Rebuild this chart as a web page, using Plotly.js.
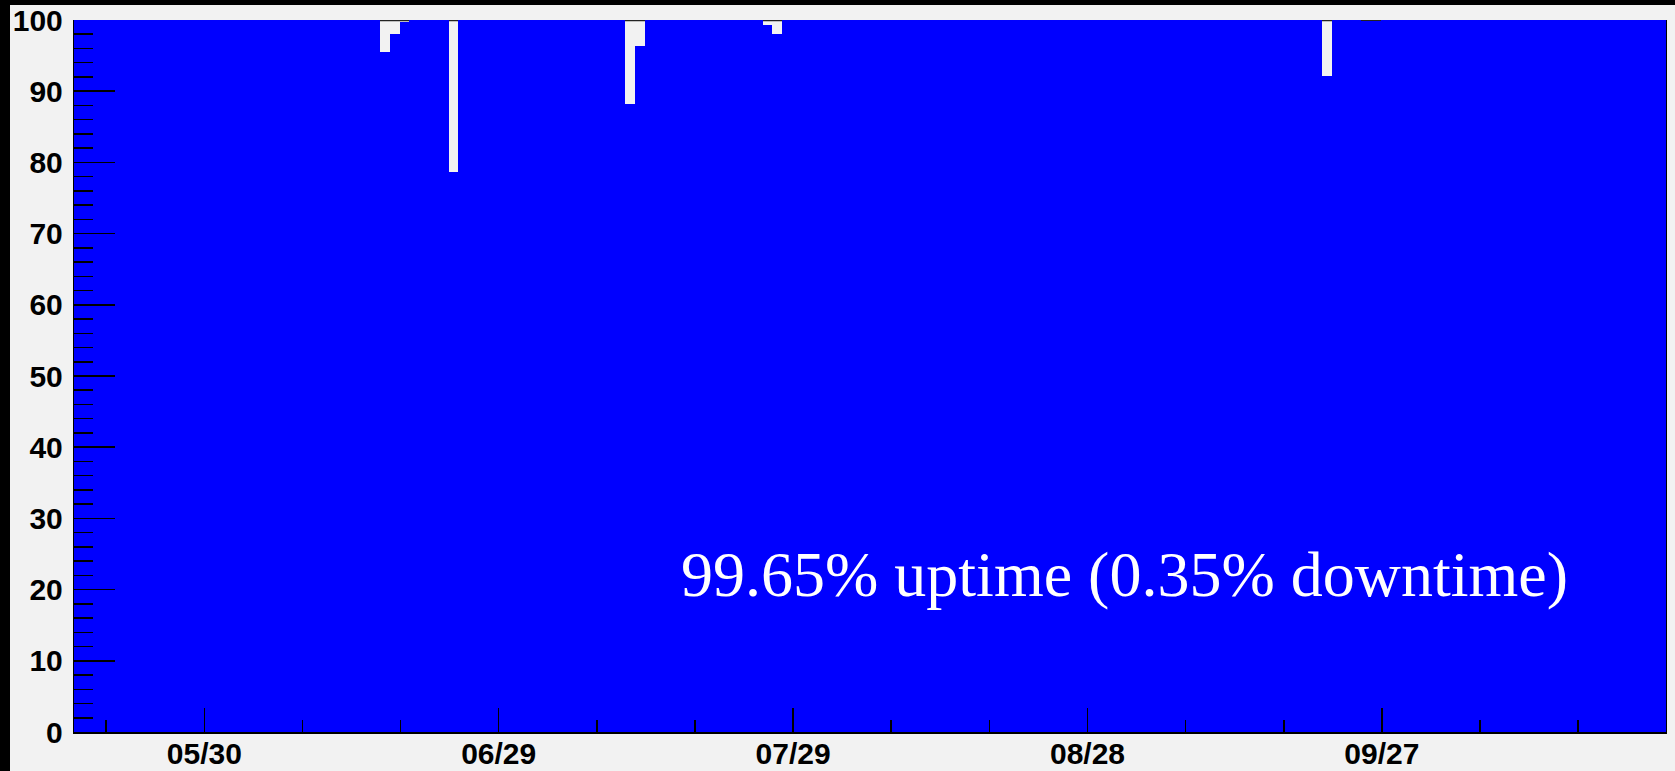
<!DOCTYPE html>
<html>
<head>
<meta charset="utf-8">
<script src="https://cdn.plot.ly/plotly-3.0.1.min.js"></script>
<style>
  html, body { margin: 0; padding: 0; background: #000; overflow: hidden; }
  #chart { position: absolute; left: 10px; top: 5px; width: 1665px; height: 766px; }
</style>
</head>
<body>
<div id="chart"></div>
<script>
// Daily uptime (%) per calendar day, one array per month.
const year = 2013;

// May 16 .. May 31
const mayDays = [16, 31];
const mayUptime = [100, 100, 100, 100, 100, 100, 100, 100, 100, 100, 100, 100, 100, 100, 100, 100];

// June 1 .. June 30
const juneDays = [1, 30];
const juneUptime = [100, 100, 100, 100, 100, 100, 100, 100, 100, 100,
                    100, 100, 100, 100, 100, 100, 95.45, 98.07, 99.72, 100,
                    100, 100, 100, 78.63, 100, 100, 100, 100, 100, 100];

// July 1 .. July 31
const julyDays = [1, 31];
const julyUptime = [100, 100, 100, 100, 100, 100, 100, 100, 100, 100,
                    100, 88.23, 96.35, 100, 100, 100, 100, 100, 100, 100,
                    100, 100, 100, 100, 100, 99.24, 98.03, 100, 100, 100, 100];

// August 1 .. August 31
const augDays = [1, 31];
const augUptime = [100, 100, 100, 100, 100, 100, 100, 100, 100, 100,
                   100, 100, 100, 100, 100, 100, 100, 100, 100, 100,
                   100, 100, 100, 100, 100, 100, 100, 100, 100, 100, 100];

// September 1 .. September 30
const sepDays = [1, 30];
const sepUptime = [100, 100, 100, 100, 100, 100, 100, 100, 100, 100,
                   100, 100, 100, 100, 100, 100, 100, 100, 100, 100,
                   92.13, 100, 100, 100, 99.9, 99.9, 100, 100, 100, 100];

// October 1 .. October 25
const octDays = [1, 25];
const octUptime = [100, 100, 99.95, 100, 100, 100, 100, 100, 100, 100,
                   100, 100, 100, 100, 100, 100, 100, 100, 100, 100,
                   100, 100, 100, 100, 100];

const summaryText = '99.65% uptime (0.35% downtime)';

// Date tick labels every 30 days starting from this day, minor ticks every 10 days.
const tickStart = '2013-05-30';

const DAY = 86400000;
// Daily bins start a little before local midnight.
const BIN_OFFSET = -0.1 * DAY;

const months = [
  { m: 4, days: mayDays, vals: mayUptime },
  { m: 5, days: juneDays, vals: juneUptime },
  { m: 6, days: julyDays, vals: julyUptime },
  { m: 7, days: augDays, vals: augUptime },
  { m: 8, days: sepDays, vals: sepUptime },
  { m: 9, days: octDays, vals: octUptime }
];

const xs = [], ys = [];
months.forEach(function (mo) {
  mo.vals.forEach(function (v, i) {
    const d = mo.days[0] + i;
    xs.push(Date.UTC(year, mo.m, d) + BIN_OFFSET + DAY / 2);
    ys.push(v);
  });
});

const t0 = Date.UTC(2013, 4, 30);
const xRange = [t0 - 13.278 * DAY, t0 + 148.95 * DAY];

const tickFont = { family: 'Liberation Sans, Arial, sans-serif', size: 30, color: '#000', weight: 'bold' };

const trace = {
  type: 'bar',
  x: xs,
  y: ys,
  width: DAY,
  marker: { color: '#0000ff', line: { width: 0 } },
  hoverinfo: 'none'
};

const layout = {
  width: 1665,
  height: 766,
  margin: { l: 64, r: 9, t: 15, b: 39 },
  paper_bgcolor: '#f2f2f2',
  plot_bgcolor: '#f2f2f2',
  bargap: 0,
  showlegend: false,
  xaxis: {
    type: 'date',
    range: xRange,
    tick0: tickStart,
    dtick: 30 * DAY,
    tickformat: '%m/%d',
    ticks: 'inside',
    ticklen: 24,
    tickwidth: 1.5,
    tickcolor: '#000',
    showgrid: false,
    zeroline: false,
    showline: true,
    linecolor: '#000',
    linewidth: 2,
    tickfont: tickFont,
    ticklabeloverflow: 'allow',
    ticklabelstandoff: -6,
    minor: { tick0: tickStart, dtick: 10 * DAY, ticks: 'inside', ticklen: 12, tickwidth: 1.5, tickcolor: '#000', showgrid: false }
  },
  yaxis: {
    range: [0, 100],
    tick0: 0,
    dtick: 10,
    ticks: 'inside',
    ticklen: 41,
    tickwidth: 1.5,
    tickcolor: '#000',
    showgrid: false,
    zeroline: false,
    showline: true,
    mirror: true,
    linecolor: '#000',
    linewidth: 1.2,
    tickfont: tickFont,
    ticklabeloverflow: 'allow',
    ticklabelstandoff: 4,
    minor: { dtick: 2, ticks: 'inside', ticklen: 19, tickwidth: 1.5, tickcolor: '#000', showgrid: false }
  },
  shapes: [
    // Top frame edge, drawn under the bars so it only shows where a day dips below 100%.
    { type: 'line', xref: 'paper', yref: 'paper', x0: 0, x1: 1, y0: 0.999, y1: 0.999,
      layer: 'below', line: { color: '#222', width: 1.2 } }
  ],
  annotations: [
    { text: summaryText, xref: 'paper', yref: 'paper', x: 0.660, y: 0.2217,
      xanchor: 'center', yanchor: 'middle', showarrow: false,
      font: { family: 'Liberation Serif, Times New Roman, serif', size: 64, color: '#ffffff' } }
  ]
};

Plotly.newPlot('chart', [trace], layout, { displayModeBar: false, staticPlot: true });
</script>
</body>
</html>
